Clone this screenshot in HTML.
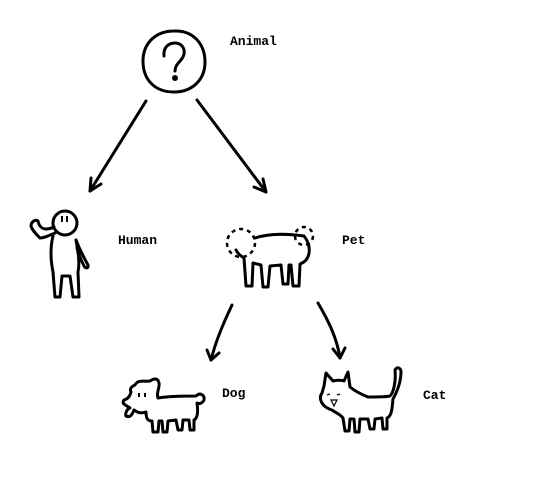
<!DOCTYPE html>
<html><head><meta charset="utf-8"><style>
html,body{margin:0;padding:0;background:#fff;}
svg{display:block}
text{font-family:"Liberation Mono",monospace;font-weight:bold;font-size:13px;fill:#000}
</style></head><body>
<svg width="540" height="486" viewBox="0 0 540 486" xmlns="http://www.w3.org/2000/svg">
<g fill="none" stroke="#000" stroke-width="3" stroke-linecap="round" stroke-linejoin="round">
<!-- question circle -->
<path d="M174 31 C193 30 205 44 205 62 C205 80 192 92 174 92 C155 92 143 80 143 61 C143 43 156 31 174 31Z"/>
<path d="M164 56 C163 46 170 43 175 43 C182 43 185 49 184 54 C183 61 175 63 175 71"/>
<!-- arrows top -->
<path d="M146 101 L90 191"/>
<path d="M90 191 L91 178 M90 191 L101 184"/>
<path d="M197 100 L266 192"/>
<path d="M266 192 L254 187 M266 192 L263 179"/>
<!-- human -->
<circle cx="65" cy="223" r="12"/>
<path d="M55 233 C48 236 44 238 40 238 C36 234 32 230 31 226 C31 222 35 219 38 221 C39 226 42 229 46 229 C49 229 52 228 54 227"/>
<path d="M53 236 C50 248 51 262 53 272 L55 297 L60 297 L62 276 L70 276 L73 297 L79 297 L78 272 C80 262 78 252 76 240"/>
<path d="M76 240 C80 250 84 258 88 265 C89 268 86 269 84 266 C81 260 78 252 77 248"/>
<!-- pet -->
<path d="M255 238 C270 233 290 234 304 236 C312 246 311 260 300 264 L299 286 L293 286 L291 265 L289 265 L288 284 L283 284 L281 265 L270 266 L268 287 L263 287 L261 265 L253 263 L252 286 L246 286 L244 258 C239 255 237 252 236 250"/>
</g>
<g fill="none" stroke="#000" stroke-width="2.5" stroke-dasharray="4 4">
<circle cx="241" cy="243" r="14"/>
<circle cx="304" cy="236" r="9"/>
</g>
<g fill="none" stroke="#000" stroke-width="3" stroke-linecap="round" stroke-linejoin="round">
<!-- bottom arrows -->
<path d="M232 305 C224 322 216 340 211 360"/>
<path d="M211 360 L207 350 M211 360 L219 353"/>
<path d="M318 303 C328 320 337 338 340 358"/>
<path d="M340 358 L333 349 M340 358 L345 348"/>
<!-- dog -->
<path d="M135 385 C138 379 145 382 150 381 C154 378 158 378 159 383 C160 388 156 392 158 398 C170 396 185 396 196 396 C200 392 205 395 204 400 C202 404 198 404 197 403 C198 410 198 418 194 420 L194 430 L190 430 L189 420 L183 420 L182 430 L178 430 L176 420 L168 421 L167 432 L163 432 L162 421 L159 421 L158 432 L153 432 L152 421 C148 421 146 419 146 412 C140 414 137 412 134 410 C132 415 130 418 126 416 C125 413 127 409 130 408 C126 405 121 404 124 400 C128 399 130 396 131 392 C130 390 130 387 135 385Z"/>
<!-- cat -->
<path d="M324 386 L326 373 L333 381 C337 380 341 380 344 381 L348 372 L350 387 C356 392 363 395 368 397 C376 397 386 397 390 396 C394 392 396 380 395 370 C397 366 401 368 401 372 C401 380 398 390 393 399 C392 408 392 416 387 418 L387 429 L383 429 L382 418 L375 419 L374 429 L370 429 L368 419 L360 419 L359 432 L355 432 L354 419 L350 419 L349 431 L345 431 L343 418 C340 414 336 413 332 410 C322 407 318 399 322 393 Z"/>
</g>
<g fill="none" stroke="#000" stroke-width="1.2">
<path d="M327 395 l3 -1 M337 395 l3 -1 M331 400 l3 6 l3 -6 z"/>
</g>
<g fill="#000">
<circle cx="175" cy="78" r="3"/>
<rect x="61" y="216" width="2" height="6"/>
<rect x="66" y="216" width="2" height="6"/>
<rect x="138" y="393" width="2" height="4"/>
<rect x="144" y="393" width="2" height="4"/>
</g>
<text x="230" y="45">Animal</text>
<text x="118" y="244">Human</text>
<text x="342" y="244">Pet</text>
<text x="222" y="397">Dog</text>
<text x="423" y="399">Cat</text>
</svg>
</body></html>
